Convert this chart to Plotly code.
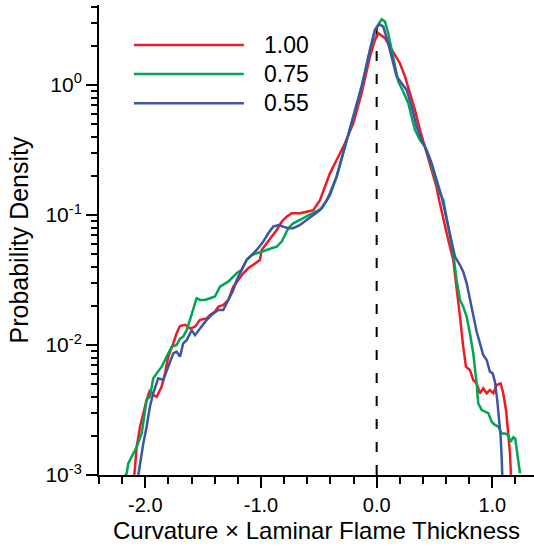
import plotly.graph_objects as go

# ---- data (x: curvature x laminar flame thickness, y: probability density) ----
red_x = [-2.095, -2.089, -2.074, -2.045, -2.017, -1.988, -1.960, -1.931, -1.901, -1.858, -1.830, -1.801,
         -1.758, -1.729, -1.700, -1.656, -1.613, -1.570, -1.527, -1.469, -1.441, -1.398, -1.369, -1.326,
         -1.283, -1.239, -1.196, -1.153, -1.110, -1.052, -1.009, -0.994, -0.951, -0.908, -0.864, -0.821,
         -0.778, -0.735, -0.663, -0.605, -0.548, -0.490, -0.404, -0.346, -0.274, -0.202, -0.130, -0.058,
         -0.015, 0.014, 0.072, 0.115, 0.158, 0.201, 0.245, 0.288, 0.331, 0.374, 0.417, 0.460, 0.517,
         0.540, 0.576, 0.619, 0.662, 0.691, 0.720, 0.748, 0.772, 0.806, 0.835, 0.864, 0.893, 0.921,
         0.951, 0.979, 1.008, 1.037, 1.072, 1.094, 1.118, 1.137, 1.152, 1.161]
red_y = [1.0e-3, 1.16e-3, 1.65e-3, 2.36e-3, 2.99e-3, 3.78e-3, 4.51e-3, 4.12e-3, 4.00e-3, 4.78e-3, 6.05e-3, 8.13e-3,
         1.03e-2, 1.23e-2, 1.40e-2, 1.43e-2, 1.34e-2, 1.38e-2, 1.56e-2, 1.60e-2, 1.70e-2, 1.80e-2, 1.97e-2, 2.03e-2,
         2.22e-2, 2.81e-2, 3.16e-2, 3.56e-2, 3.89e-2, 4.25e-2, 4.51e-2, 5.38e-2, 6.05e-2, 6.81e-2, 7.67e-2, 8.87e-2,
         9.70e-2, 0.103, 0.103, 0.106, 0.109, 0.130, 0.209, 0.265, 0.356, 0.507, 0.863, 1.65,
         2.22, 2.50, 2.29, 1.97, 1.70, 1.47, 1.16, 0.863, 0.643, 0.451, 0.335, 0.250, 0.165,
         0.130, 0.0916, 0.0643, 0.0451, 0.0281, 0.0165, 9.70e-3, 6.81e-3, 6.43e-3, 5.38e-3, 5.07e-3, 4.25e-3, 4.65e-3,
         4.25e-3, 4.51e-3, 4.25e-3, 4.92e-3, 5.07e-3, 4.25e-3, 3.16e-3, 2.09e-3, 1.47e-3, 1.0e-3]

green_x = [-2.174, -2.161, -2.147, -2.118, -2.074, -2.031, -1.988, -1.960, -1.931, -1.901, -1.858, -1.815,
           -1.772, -1.729, -1.700, -1.672, -1.642, -1.614, -1.585, -1.556, -1.527, -1.484, -1.441, -1.398,
           -1.354, -1.326, -1.283, -1.253, -1.210, -1.167, -1.124, -1.080, -1.037, -0.994, -0.951, -0.908,
           -0.864, -0.821, -0.793, -0.764, -0.721, -0.663, -0.605, -0.548, -0.475, -0.404, -0.346, -0.274,
           -0.202, -0.130, -0.058, -0.015, 0.043, 0.072, 0.100, 0.130, 0.158, 0.187, 0.230, 0.273, 0.302,
           0.331, 0.374, 0.417, 0.460, 0.504, 0.547, 0.576, 0.619, 0.662, 0.691, 0.720, 0.748, 0.778,
           0.806, 0.835, 0.864, 0.878, 0.908, 0.936, 0.965, 0.994, 1.022, 1.051, 1.080, 1.109, 1.137,
           1.158, 1.181, 1.198, 1.215, 1.239]
green_y = [1.0e-3, 1.03e-3, 1.23e-3, 1.38e-3, 1.65e-3, 2.09e-3, 3.78e-3, 4.00e-3, 5.55e-3, 6.05e-3, 6.81e-3, 8.13e-3,
           9.70e-3, 1.0e-2, 1.12e-2, 1.16e-2, 1.30e-2, 1.56e-2, 1.86e-2, 2.29e-2, 2.22e-2, 2.22e-2, 2.29e-2, 2.36e-2,
           2.81e-2, 2.90e-2, 3.07e-2, 3.26e-2, 3.56e-2, 3.78e-2, 4.51e-2, 4.92e-2, 5.07e-2, 5.22e-2, 5.45e-2, 5.55e-2,
           5.70e-2, 6.24e-2, 7.01e-2, 7.91e-2, 8.63e-2, 9.16e-2, 9.70e-2, 0.103, 0.112, 0.141, 0.197, 0.335,
           0.570, 0.970, 1.86, 2.65, 3.20, 3.07, 2.50, 1.86, 1.38, 1.06, 0.887, 0.723, 0.570,
           0.451, 0.378, 0.335, 0.265, 0.197, 0.147, 0.130, 0.0813, 0.0507, 0.0316, 0.0222, 0.0197, 0.0165,
           0.0123, 8.63e-3, 5.07e-3, 3.56e-3, 3.16e-3, 3.07e-3, 2.99e-3, 2.57e-3, 2.43e-3, 2.36e-3, 2.09e-3, 2.09e-3, 2.03e-3,
           1.80e-3, 1.95e-3, 1.91e-3, 1.47e-3, 1.03e-3]

blue_x = [-2.060, -2.045, -2.017, -1.988, -1.960, -1.931, -1.888, -1.844, -1.801, -1.758, -1.729, -1.700,
          -1.672, -1.642, -1.599, -1.570, -1.527, -1.469, -1.412, -1.369, -1.326, -1.283, -1.239, -1.210,
          -1.167, -1.124, -1.080, -1.037, -0.980, -0.937, -0.894, -0.850, -0.807, -0.764, -0.721, -0.663,
          -0.605, -0.548, -0.490, -0.432, -0.404, -0.346, -0.274, -0.202, -0.130, -0.058, -0.015, 0.022,
          0.057, 0.100, 0.144, 0.173, 0.216, 0.259, 0.302, 0.346, 0.389, 0.432, 0.475, 0.519, 0.562,
          0.619, 0.648, 0.677, 0.720, 0.748, 0.778, 0.806, 0.835, 0.864, 0.893, 0.921, 0.951, 0.979,
          1.003, 1.022, 1.042, 1.060, 1.072, 1.080, 1.086]
blue_y = [1.0e-3, 1.23e-3, 1.75e-3, 2.36e-3, 3.35e-3, 4.25e-3, 5.55e-3, 5.38e-3, 6.81e-3, 8.63e-3, 8.89e-3, 8.13e-3,
          1.03e-2, 1.09e-2, 1.30e-2, 1.19e-2, 1.34e-2, 1.56e-2, 1.75e-2, 1.86e-2, 1.86e-2, 2.22e-2, 2.65e-2, 3.16e-2,
          3.78e-2, 4.51e-2, 4.92e-2, 5.38e-2, 6.24e-2, 7.23e-2, 8.13e-2, 8.38e-2, 8.13e-2, 7.91e-2, 7.91e-2, 8.38e-2,
          9.16e-2, 0.100, 0.109, 0.130, 0.147, 0.197, 0.335, 0.570, 0.970, 1.86, 2.65, 2.94,
          2.81, 2.09, 1.47, 1.16, 1.03, 0.916, 0.681, 0.478, 0.378, 0.316, 0.250, 0.186, 0.138,
          0.0813, 0.0605, 0.0478, 0.0412, 0.0366, 0.0298, 0.0222, 0.0165, 0.0127, 0.0103, 8.38e-3, 7.67e-3, 6.24e-3,
          6.05e-3, 5.22e-3, 3.78e-3, 2.65e-3, 1.97e-3, 1.38e-3, 1.0e-3]

series_names = ["1.00", "0.75", "0.55"]
series_colors = ["#ED1C24", "#00A651", "#3F54A5"]

x_tick_vals = [-2.0, -1.0, 0.0, 1.0]
x_tick_text = ["-2.0", "-1.0", "0.0", "1.0"]
y_tick_vals = [1e-3, 1e-2, 1e-1, 1.0]
y_tick_text = ["10<sup>-3</sup>", "10<sup>-2</sup>", "10<sup>-1</sup>", "10<sup>0</sup>"]
y_minor_vals = [m * d for d in (1e-3, 1e-2, 1e-1, 1.0) for m in range(2, 10)]

x_title = "Curvature \u00d7 Laminar Flame Thickness"
y_title = "Probability Density"

FONT = "Liberation Sans, Arial, Helvetica, sans-serif"

fig = go.Figure()
for xs, ys, name, col in zip([red_x, green_x, blue_x], [red_y, green_y, blue_y], series_names, series_colors):
    fig.add_trace(go.Scatter(x=xs, y=ys, mode="lines", name=name,
                             line=dict(color=col, width=2.5), showlegend=False))

# dashed vertical line at zero
fig.add_shape(type="line", xref="x", yref="paper", x0=0, x1=0, y0=0, y1=0.974,
              line=dict(color="black", width=2, dash="10px,13px"), layer="below")

# custom legend (long line samples)
leg_y = [0.915, 0.853, 0.791]
for name, col, ly in zip(series_names, series_colors, leg_y):
    fig.add_shape(type="line", xref="paper", yref="paper", x0=0.0805, x1=0.333, y0=ly, y1=ly,
                  line=dict(color=col, width=2.5))
    fig.add_annotation(xref="paper", yref="paper", x=0.374, y=ly, text=name, showarrow=False,
                       xanchor="left", yanchor="middle", font=dict(family=FONT, size=23, color="black"))

fig.update_layout(
    width=534, height=549,
    margin=dict(l=99, r=0, t=5, b=74, pad=0),
    paper_bgcolor="white", plot_bgcolor="white",
    font=dict(family=FONT, color="black"),
    showlegend=False,
)
fig.update_xaxes(
    range=[-2.4, 1.36], showline=True, linecolor="black", linewidth=2, mirror=False,
    showgrid=False, zeroline=False,
    tickmode="array", tickvals=x_tick_vals, ticktext=x_tick_text,
    ticks="outside", ticklen=11, tickwidth=2, tickcolor="black",
    tickfont=dict(family=FONT, size=20, color="black"),
    minor=dict(dtick=0.2, tick0=0, ticks="outside", ticklen=7, tickwidth=2, tickcolor="black", showgrid=False),
    title=dict(text=x_title, font=dict(family=FONT, size=24, color="black"), standoff=7),
    automargin=False,
)
fig.update_yaxes(
    type="log", range=[-3, 0.615], showline=True, linecolor="black", linewidth=2, mirror=False,
    showgrid=False, zeroline=False,
    tickmode="array", tickvals=y_tick_vals, ticktext=y_tick_text,
    ticks="outside", ticklen=11, tickwidth=2, tickcolor="black",
    tickfont=dict(family=FONT, size=21, color="black"),
    minor=dict(tickmode="array", tickvals=y_minor_vals, ticks="outside", ticklen=6, tickwidth=2,
               tickcolor="black", showgrid=False),
    title=dict(text=y_title, font=dict(family=FONT, size=25, color="black"), standoff=10),
    automargin=False,
)

fig.write_html("out.html")
